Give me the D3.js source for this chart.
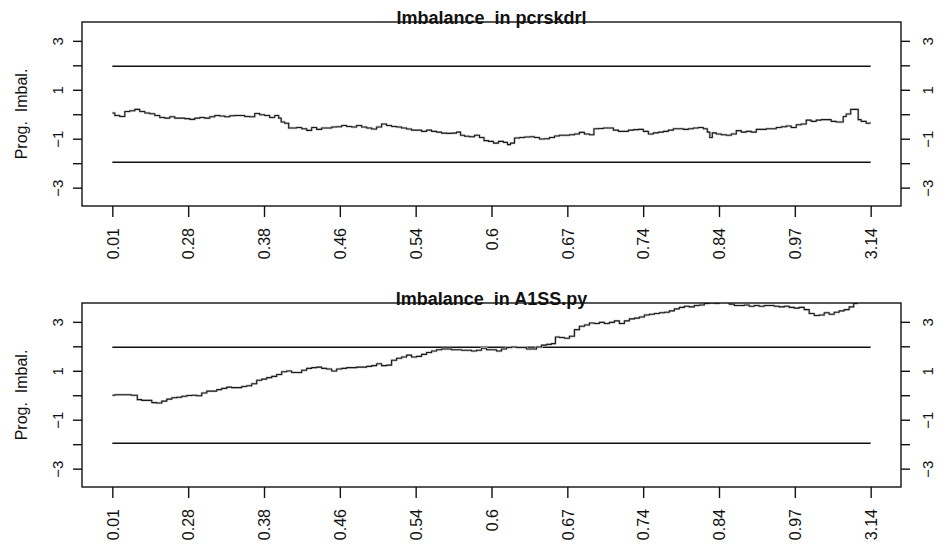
<!DOCTYPE html>
<html>
<head>
<meta charset="utf-8">
<script src="https://cdn.jsdelivr.net/npm/d3@7"></script>
<style>
  html, body { margin: 0; padding: 0; background: #fff; }
  svg { display: block; }
  text { font-family: "Liberation Sans", Arial, Helvetica, sans-serif; fill: #111; }
</style>
</head>
<body>
<div id="chart"></div>
<script>
// Running imbalance traces: [observation order, progressive imbalance]
const seriesPcrskdrl = [
  [0,0.05],[5,-0.05],[10,-0.09],[15,0.11],[20,0.14],[25,0.2],[30,0.11],[35,0.05],[40,0.02],
  [45,-0.05],[50,-0.13],[55,-0.16],[60,-0.1],[65,-0.16],[70,-0.16],[75,-0.18],[80,-0.21],
  [85,-0.16],[90,-0.13],[95,-0.16],[100,-0.1],[105,-0.05],[110,-0.07],[115,-0.1],[120,-0.06],
  [125,-0.05],[130,-0.05],[135,-0.09],[140,-0.1],[145,0.03],[150,-0.02],[155,-0.05],[160,-0.13],
  [165,-0.05],[168,-0.16],[170,-0.32],[175,-0.37],[178,-0.56],[182,-0.56],[187,-0.54],[192,-0.59],
  [197,-0.66],[202,-0.54],[207,-0.62],[212,-0.56],[217,-0.56],[222,-0.52],[227,-0.51],[232,-0.46],
  [237,-0.5],[242,-0.52],[247,-0.46],[252,-0.52],[257,-0.56],[262,-0.6],[267,-0.52],[272,-0.4],
  [277,-0.46],[282,-0.5],[287,-0.52],[292,-0.56],[297,-0.6],[302,-0.65],[307,-0.65],[312,-0.7],
  [317,-0.65],[322,-0.7],[327,-0.73],[332,-0.77],[337,-0.78],[342,-0.77],[347,-0.73],[350,-0.86],
  [355,-0.9],[360,-0.92],[365,-0.86],[370,-0.95],[374,-1.08],[379,-1.11],[384,-1.18],[389,-1.11],
  [394,-1.15],[397,-1.24],[400,-1.18],[405,-0.97],[410,-0.95],[415,-0.93],[420,-0.92],[425,-0.95],
  [430,-1.01],[435,-1.0],[440,-0.95],[445,-0.89],[450,-0.86],[455,-0.86],[460,-0.84],[465,-0.81],
  [470,-0.74],[475,-0.81],[480,-0.84],[484,-0.59],[489,-0.58],[494,-0.56],[499,-0.56],[504,-0.65],
  [509,-0.7],[514,-0.7],[519,-0.65],[524,-0.63],[529,-0.62],[534,-0.7],[539,-0.81],[544,-0.76],
  [549,-0.73],[554,-0.7],[559,-0.65],[564,-0.59],[569,-0.59],[574,-0.62],[579,-0.59],[584,-0.56],
  [589,-0.54],[594,-0.59],[597,-0.73],[599,-0.95],[602,-0.76],[607,-0.81],[612,-0.84],[617,-0.86],
  [622,-0.81],[627,-0.67],[632,-0.73],[637,-0.7],[642,-0.73],[647,-0.62],[652,-0.62],[657,-0.59],
  [662,-0.59],[667,-0.54],[672,-0.51],[677,-0.48],[682,-0.54],[687,-0.43],[692,-0.4],[697,-0.24],
  [702,-0.29],[707,-0.24],[712,-0.22],[717,-0.22],[722,-0.29],[727,-0.32],[731,-0.32],[732,-0.09],
  [737,0.01],[741,0.2],[746,0.2],[747,-0.22],[752,-0.29],[757,-0.37],[759,-0.36]
];

const seriesA1SS = [
  [0,0.0],[5,0.02],[15,0.02],[23,0.0],[27,-0.18],[32,-0.21],[37,-0.21],[42,-0.3],[47,-0.32],
  [52,-0.24],[57,-0.16],[62,-0.1],[67,-0.08],[72,-0.04],[77,-0.01],[82,0.0],[87,-0.02],[92,0.09],
  [97,0.17],[102,0.17],[107,0.23],[112,0.28],[117,0.33],[122,0.31],[127,0.31],[132,0.36],[137,0.39],
  [142,0.47],[147,0.61],[152,0.66],[157,0.72],[162,0.77],[167,0.85],[172,0.96],[177,0.99],[182,0.93],
  [187,0.93],[192,1.02],[197,1.1],[202,1.13],[207,1.15],[212,1.1],[217,1.07],[222,0.99],[227,1.07],
  [232,1.1],[237,1.13],[242,1.13],[247,1.15],[252,1.15],[257,1.18],[262,1.21],[267,1.29],[272,1.21],
  [277,1.23],[282,1.43],[287,1.51],[292,1.56],[297,1.64],[302,1.56],[307,1.59],[312,1.67],[317,1.75],
  [322,1.81],[327,1.86],[332,1.89],[337,1.89],[342,1.86],[347,1.86],[352,1.84],[357,1.84],[362,1.81],
  [367,1.84],[372,1.92],[377,1.86],[382,1.86],[387,1.81],[392,1.89],[397,1.95],[402,1.97],[407,1.95],
  [412,1.95],[417,1.89],[422,1.89],[427,1.97],[432,2.05],[437,2.08],[442,2.11],[445,2.38],[450,2.36],
  [455,2.33],[460,2.41],[465,2.68],[470,2.82],[475,2.87],[480,2.95],[485,2.93],[490,2.98],[495,2.93],
  [500,2.98],[505,3.04],[510,2.93],[515,3.04],[520,3.12],[525,3.15],[530,3.2],[535,3.28],[540,3.31],
  [545,3.34],[550,3.37],[555,3.39],[560,3.45],[565,3.53],[570,3.59],[575,3.64],[580,3.61],[585,3.67],
  [590,3.69],[595,3.75],[600,3.78],[605,3.76],[610,3.82],[615,3.8],[620,3.72],[625,3.67],[630,3.67],
  [635,3.69],[640,3.64],[645,3.67],[650,3.64],[655,3.67],[660,3.67],[665,3.64],[670,3.61],[675,3.64],
  [680,3.59],[685,3.56],[690,3.59],[695,3.5],[700,3.34],[705,3.26],[710,3.28],[715,3.37],[720,3.31],
  [725,3.39],[730,3.45],[735,3.5],[740,3.61],[744,3.75],[747,3.9],[751,3.98],[755,4.06],[759,4.12]
];

// Quantile labels shown under the evenly spaced order ticks
const xTickLabels = ["0.01","0.28","0.38","0.46","0.54","0.6","0.67","0.74","0.84","0.97","3.14"];
const yTicks = [-3, -2, -1, 0, 1, 2, 3];
const yLabelled = [-3, -1, 1, 3];
const bounds = [-1.96, 1.96];
const nObs = 759;

const panels = [
  { title: "Imbalance  in pcrskdrl", data: seriesPcrskdrl, top: 22 },
  { title: "Imbalance  in A1SS.py",  data: seriesA1SS,     top: 303 }
];

const W = 938, H = 550;
const left = 82, right = 901, plotH = 184;

const svg = d3.select("#chart").append("svg")
  .attr("width", W).attr("height", H);

const pad = nObs * 0.04;
const x = d3.scaleLinear().domain([-pad, nObs + pad]).range([left, right]);
const tickPos = xTickLabels.map((_, i) => i * nObs / (xTickLabels.length - 1));

const fmtY = v => (v < 0 ? "\u2212" + Math.abs(v) : String(v));

panels.forEach((p, k) => {
  const top = p.top, bottom = top + plotH;
  const y = d3.scaleLinear().domain([-3.75, 3.77]).range([bottom, top]);
  const g = svg.append("g");

  const clipId = "clip" + k;
  svg.append("clipPath").attr("id", clipId)
    .append("rect").attr("x", left).attr("y", top)
    .attr("width", right - left).attr("height", plotH);

  // ±1.96 reference lines
  g.selectAll("line.bound").data(bounds).join("line")
    .attr("class", "bound")
    .attr("x1", x(0)).attr("x2", x(nObs))
    .attr("y1", d => y(d)).attr("y2", d => y(d))
    .attr("stroke", "#111").attr("stroke-width", 1.4);

  // imbalance trace, drawn as a step function of observation order
  const line = d3.line().curve(d3.curveStep).x(d => x(d[0])).y(d => y(d[1]));
  const trace = g.append("g").attr("clip-path", `url(#${clipId})`);
  trace.append("path").datum(p.data)
    .attr("d", line).attr("fill", "none")
    .attr("stroke", "#c4c4c4").attr("stroke-width", 2.4).attr("stroke-linejoin", "round");
  trace.append("path").datum(p.data)
    .attr("d", line).attr("fill", "none")
    .attr("stroke", "#1a1a1a").attr("stroke-width", 1.1).attr("stroke-linejoin", "round");

  // frame
  g.append("rect").attr("x", left).attr("y", top)
    .attr("width", right - left).attr("height", plotH)
    .attr("fill", "none").attr("stroke", "#111").attr("stroke-width", 1.4);

  // bottom axis
  const xa = g.append("g").attr("transform", `translate(0,${bottom})`)
    .call(d3.axisBottom(x).tickValues(tickPos).tickSize(11)
      .tickFormat((d, i) => xTickLabels[i]));
  xa.select(".domain").remove();
  xa.selectAll(".tick line").attr("stroke", "#111").attr("stroke-width", 1.4);
  xa.selectAll(".tick text")
    .attr("transform", "rotate(-90)")
    .attr("x", -22).attr("y", 0).attr("dy", "0.36em")
    .attr("text-anchor", "end")
    .style("font-size", "16px").attr("fill", "#222");

  // left and right axes
  [["L", d3.axisLeft, left], ["R", d3.axisRight, right]].forEach(([side, axisFn, ax]) => {
    const ya = g.append("g").attr("transform", `translate(${ax},0)`)
      .call(axisFn(y).tickValues(yTicks).tickSize(9)
        .tickFormat(d => (yLabelled.includes(d) ? fmtY(d) : "")));
    ya.select(".domain").remove();
    ya.selectAll(".tick line").attr("stroke", "#111").attr("stroke-width", 1.4);
    ya.selectAll(".tick text")
      .attr("transform", "rotate(-90)")
      .attr("x", 0).attr("dy", 0)
      .attr("y", side === "L" ? -19 : 32)
      .attr("text-anchor", "middle")
      .style("font-size", "15px").attr("fill", "#222");
  });

  // y-axis title
  g.append("text")
    .attr("transform", `translate(27,${(top + bottom) / 2}) rotate(-90)`)
    .attr("text-anchor", "middle")
    .style("font-size", "16px").style("white-space", "pre").attr("fill", "#333")
    .text("Prog.  Imbal.");

  // panel title
  g.append("text")
    .attr("x", (left + right) / 2).attr("y", top + 2)
    .attr("text-anchor", "middle")
    .style("font-size", "18px").style("font-weight", "bold").style("white-space", "pre")
    .text(p.title);
});
</script>
</body>
</html>
